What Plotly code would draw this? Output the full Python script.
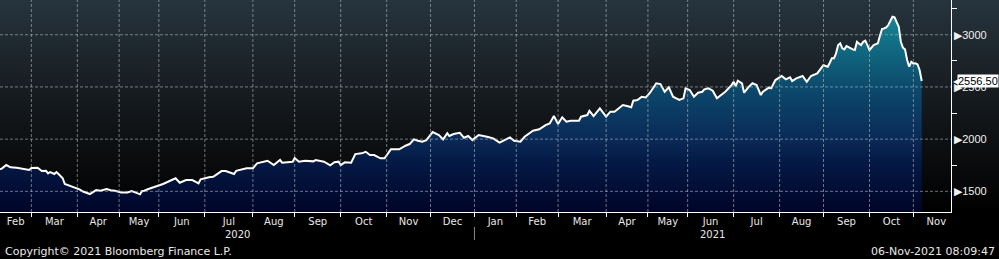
import base64
import pandas as pd
import plotly.graph_objects as go

# ---------------- data ----------------
dates = [
    "2020-02-10", "2020-02-11", "2020-02-13", "2020-02-17", "2020-02-20", "2020-02-25", "2020-02-28",
    "2020-03-02", "2020-03-05", "2020-03-09", "2020-03-11", "2020-03-12", "2020-03-13", "2020-03-17",
    "2020-03-18", "2020-03-19", "2020-03-23", "2020-03-24", "2020-03-27", "2020-03-30",
    "2020-04-02", "2020-04-06", "2020-04-09", "2020-04-16", "2020-04-20", "2020-04-23", "2020-04-27", "2020-04-29",
    "2020-05-04", "2020-05-07", "2020-05-12", "2020-05-14", "2020-05-18", "2020-05-19", "2020-05-20",
    "2020-05-22", "2020-05-27", "2020-05-29",
    "2020-06-01", "2020-06-03", "2020-06-11", "2020-06-15", "2020-06-18", "2020-06-23", "2020-06-26", "2020-06-29",
    "2020-07-03", "2020-07-07", "2020-07-13", "2020-07-15", "2020-07-21", "2020-07-22", "2020-07-29",
    "2020-08-03", "2020-08-05", "2020-08-11", "2020-08-12", "2020-08-17", "2020-08-20", "2020-08-21", "2020-08-28",
    "2020-09-01", "2020-09-03", "2020-09-08", "2020-09-14", "2020-09-15", "2020-09-18", "2020-09-21",
    "2020-09-24", "2020-09-28", "2020-09-30",
    "2020-10-01", "2020-10-05", "2020-10-08", "2020-10-12", "2020-10-15", "2020-10-19", "2020-10-21",
    "2020-10-23", "2020-10-28", "2020-10-30",
    "2020-11-04", "2020-11-10", "2020-11-12", "2020-11-13", "2020-11-17", "2020-11-19", "2020-11-23",
    "2020-11-25", "2020-11-27",
    "2020-12-02", "2020-12-07", "2020-12-09", "2020-12-11", "2020-12-14", "2020-12-16", "2020-12-21",
    "2020-12-23", "2020-12-29", "2020-12-31",
    "2021-01-06", "2021-01-12", "2021-01-15", "2021-01-20", "2021-01-25", "2021-01-27", "2021-01-29",
    "2021-02-03", "2021-02-05", "2021-02-11", "2021-02-16", "2021-02-19", "2021-02-23", "2021-02-25",
    "2021-03-01", "2021-03-03", "2021-03-05", "2021-03-09", "2021-03-15", "2021-03-16", "2021-03-19",
    "2021-03-22", "2021-03-24", "2021-03-29",
    "2021-04-01", "2021-04-07", "2021-04-09", "2021-04-12", "2021-04-15", "2021-04-19", "2021-04-21",
    "2021-04-22", "2021-04-26", "2021-04-28", "2021-04-30",
    "2021-05-05", "2021-05-10", "2021-05-12", "2021-05-14", "2021-05-18", "2021-05-20", "2021-05-25",
    "2021-05-27", "2021-05-28",
    "2021-06-02", "2021-06-04", "2021-06-08", "2021-06-10", "2021-06-11", "2021-06-15", "2021-06-17",
    "2021-06-21", "2021-06-23", "2021-06-25", "2021-06-30",
    "2021-07-01", "2021-07-02", "2021-07-05", "2021-07-07", "2021-07-08", "2021-07-12", "2021-07-14",
    "2021-07-16", "2021-07-20", "2021-07-21", "2021-07-26", "2021-07-27", "2021-07-29",
    "2021-08-03", "2021-08-05", "2021-08-09", "2021-08-10", "2021-08-12", "2021-08-17", "2021-08-19",
    "2021-08-23", "2021-08-26",
    "2021-09-01", "2021-09-02", "2021-09-03", "2021-09-06", "2021-09-07", "2021-09-08", "2021-09-09",
    "2021-09-10", "2021-09-13", "2021-09-14", "2021-09-15", "2021-09-16", "2021-09-17", "2021-09-20",
    "2021-09-21", "2021-09-22", "2021-09-23", "2021-09-24", "2021-09-27", "2021-09-28", "2021-09-29",
    "2021-09-30",
    "2021-10-01", "2021-10-05", "2021-10-07", "2021-10-08", "2021-10-11", "2021-10-12", "2021-10-13",
    "2021-10-14", "2021-10-15", "2021-10-18", "2021-10-19", "2021-10-20", "2021-10-21", "2021-10-22",
    "2021-10-25", "2021-10-26", "2021-10-27", "2021-10-28", "2021-10-29",
    "2021-11-01", "2021-11-02", "2021-11-03", "2021-11-04", "2021-11-05",
]
values = [
    1711, 1720, 1752, 1730, 1726, 1714, 1704,
    1723, 1726, 1694, 1697, 1672, 1685, 1666,
    1685, 1666, 1625, 1570, 1551, 1544,
    1519, 1496, 1474, 1512, 1506, 1522, 1510, 1506,
    1490, 1490, 1503, 1487, 1471, 1503, 1506,
    1522, 1534, 1551,
    1558, 1570, 1625, 1582, 1608, 1608, 1577, 1615,
    1634, 1640, 1694, 1694, 1666, 1697, 1720,
    1720, 1768, 1784, 1793, 1752, 1800, 1774, 1784,
    1819, 1784, 1793, 1787, 1800, 1790, 1784,
    1749, 1778, 1784,
    1752, 1778, 1774, 1857, 1864, 1879, 1848,
    1848, 1816, 1816,
    1902, 1902, 1927, 1937, 1953, 1998, 1985,
    1975, 1991,
    2068, 2039, 1998, 2056, 2030, 2049, 2061,
    2013, 2030, 1991,
    2039, 2023, 2008, 1966, 1998, 2017, 1985,
    1975, 2023, 2080, 2094, 2135, 2151, 2221,
    2145, 2209, 2167, 2176, 2176, 2215, 2231,
    2272, 2221, 2295,
    2215, 2263, 2263, 2279, 2327, 2317, 2305,
    2368, 2375, 2406, 2400,
    2445, 2535, 2528, 2454, 2496, 2406, 2375,
    2391, 2487,
    2470, 2406, 2445, 2454, 2477, 2487, 2464,
    2391, 2423, 2454, 2518,
    2550, 2509, 2560, 2535, 2445, 2496, 2535,
    2518, 2423, 2454, 2496, 2487, 2566,
    2605, 2573, 2592, 2556, 2582, 2605, 2550,
    2605, 2630,
    2710, 2700, 2694, 2732, 2774, 2774, 2822,
    2901, 2918, 2870, 2860, 2892, 2879, 2870,
    2860, 2854, 2933, 2915, 2901, 2933, 2943,
    2901,
    2854, 2901, 2918, 2990, 3055, 3061, 3071,
    3093, 3141, 3173, 3167, 3120, 3077, 2933,
    2876, 2860, 2758, 2694, 2741,
    2725, 2726, 2716, 2660, 2556.5,
]

y_ticks = [1500, 2000, 2500, 3000]
y_minor = [1750, 2250, 2750, 3250]
y_range = [1302, 3333]
holidays = ["2020-04-10", "2020-04-13", "2020-05-08", "2020-05-25", "2020-08-31",
            "2020-12-25", "2020-12-28", "2021-01-01", "2021-04-02", "2021-04-05",
            "2021-05-03", "2021-05-31", "2021-08-30"]
x_start = "2020-02-10"
x_end = "2021-11-25"
last_label = "2556.50"
copyright_text = "Copyright\u00a9 2021 Bloomberg Finance L.P."
timestamp_text = "06-Nov-2021 08:09:47"

# ---------------- trading-day calendar ----------------
bdays = pd.bdate_range(x_start, "2021-12-31", freq="C", holidays=holidays)
end_idx = int(bdays.get_indexer([pd.Timestamp(x_end)])[0])


def idx_to_date(f):
    i = int(f)
    return (bdays[i] + pd.Timedelta(days=f - i)).strftime("%Y-%m-%d %H:%M:%S")


def bd(i):
    return bdays[i].strftime("%Y-%m-%d")


# first trading day of every month (calendar extends past the visible range)
month_first = []
seen = set()
for i, d in enumerate(bdays):
    key = (d.year, d.month)
    if key not in seen:
        seen.add(key)
        month_first.append(i)
month_label_x, month_label_t = [], []
for k in range(len(month_first) - 1):
    a, b = month_first[k], month_first[k + 1]
    if a > end_idx:
        break
    month_label_x.append(idx_to_date((a + b) / 2))
    month_label_t.append(bdays[a].strftime("%b"))
grid_x = [bd(i) for i in month_first[1:] if i <= end_idx]

year_first = []
seen_y = set()
for i, d in enumerate(bdays[: end_idx + 1]):
    if d.year not in seen_y:
        seen_y.add(d.year)
        year_first.append(i)
year_bounds = year_first + [end_idx]
year_x = [idx_to_date((year_bounds[k] + year_bounds[k + 1]) / 2) for k in range(len(year_first))]
year_t = [str(bdays[i].year) for i in year_first]
year_sep = [bd(i) for i in year_first[1:]]

# ---------------- figure ----------------
W, H = 999, 259
ML, MR, MT, MB = 0, 48, 0, 47
PW = W - ML - MR
PH = H - MT - MB

FONT = "DejaVu Sans"
NFONT = "Liberation Sans"

fig = go.Figure()
fig.add_trace(go.Scatter(
    x=dates, y=values, mode="lines",
    line=dict(color="white", width=2),
    fill="tozeroy",
    fillgradient=dict(
        type="vertical", start=y_range[0], stop=3200,
        colorscale=[[0.0, "#000428"], [0.26, "#041a46"], [0.37, "#0a2a58"],
                    [0.63, "#0c4a6c"], [0.89, "#137488"], [1.0, "#1b8898"]],
    ),
    hoverinfo="skip", showlegend=False,
))

shapes = []
grid_line = dict(color="#b4b9be", width=1, dash="3px,2px")
for gx in grid_x:
    shapes.append(dict(type="line", xref="x", yref="paper", x0=gx, x1=gx, y0=0, y1=1,
                       line=grid_line, opacity=0.6, layer="above"))
for gy in y_ticks:
    shapes.append(dict(type="line", xref="paper", yref="y", x0=0, x1=1, y0=gy, y1=gy,
                       line=grid_line, opacity=0.6, layer="above"))
for sx in year_sep:
    shapes.append(dict(type="line", xref="x", yref="paper", x0=sx, x1=sx,
                       y0=-15 / PH, y1=-28 / PH,
                       line=dict(color="#8a8a8a", width=1), layer="above"))

svg = ('<svg xmlns="http://www.w3.org/2000/svg" width="10" height="100" viewBox="0 0 10 100" '
       'preserveAspectRatio="none"><defs><linearGradient id="g" x1="0" y1="0" x2="0" y2="1">'
       '<stop offset="0" stop-color="#26343e"/><stop offset="0.45" stop-color="#161b1f"/>'
       '<stop offset="0.85" stop-color="#060708"/><stop offset="1" stop-color="#000000"/>'
       '</linearGradient></defs><rect width="10" height="100" fill="url(#g)"/></svg>')
bg_src = "data:image/svg+xml;base64," + base64.b64encode(svg.encode()).decode()

annotations = []
for yx, yt in zip(year_x, year_t):
    annotations.append(dict(x=yx, xref="x", y=0, yref="paper", yshift=-22, yanchor="middle",
                            text=yt, showarrow=False, font=dict(family=FONT, size=10, color="#e8e8e8")))
annotations.append(dict(x=0, xref="paper", xanchor="left", xshift=3, y=0, yref="paper", yshift=-39,
                        yanchor="middle", text=copyright_text, showarrow=False,
                        font=dict(family=FONT, size=11, color="#e8e8e8")))
annotations.append(dict(x=W / PW, xref="paper", xanchor="right", xshift=-2, y=0, yref="paper",
                        yshift=-39, yanchor="middle", text=timestamp_text, showarrow=False,
                        font=dict(family=FONT, size=11, color="#e8e8e8")))
annotations.append(dict(x=1, xref="paper", xanchor="left", xshift=0, y=values[-1], yref="y",
                        yanchor="middle", text="\u25C0", showarrow=False,
                        font=dict(family=FONT, size=8, color="white")))
annotations.append(dict(x=1, xref="paper", xanchor="left", xshift=6, y=values[-1], yref="y",
                        yanchor="middle", text=last_label, showarrow=False,
                        bgcolor="white", borderpad=0,
                        font=dict(family=NFONT, size=11, color="black")))

fig.update_layout(
    width=W, height=H,
    margin=dict(l=ML, r=MR, t=MT, b=MB, pad=0),
    paper_bgcolor="black", plot_bgcolor="rgba(0,0,0,0)",
    showlegend=False,
    shapes=shapes, annotations=annotations,
    images=[dict(source=bg_src, xref="paper", yref="paper", x=0, y=1, sizex=W / PW, sizey=1,
                 xanchor="left", yanchor="top", sizing="stretch", layer="below")],
    xaxis=dict(
        type="date", range=[x_start, x_end],
        rangebreaks=[dict(bounds=["sat", "mon"]), dict(values=holidays)],
        tickmode="array", tickvals=month_label_x, ticktext=month_label_t,
        ticks="", showgrid=False, zeroline=False,
        showline=True, linecolor="white", linewidth=1,
        tickfont=dict(family=FONT, size=10, color="#e8e8e8"),
        minor=dict(tickmode="array", tickvals=grid_x, ticks="outside", ticklen=4,
                   tickcolor="white", tickwidth=1, showgrid=False),
        fixedrange=True,
    ),
    yaxis=dict(
        side="right", range=y_range,
        tickmode="array", tickvals=y_ticks, ticktext=["\u25B6" + str(v) for v in y_ticks],
        ticks="", showgrid=False, zeroline=False,
        showline=True, linecolor="white", linewidth=1,
        ticklabelstandoff=0,
        tickfont=dict(family=NFONT, size=11, color="#f0f0f0"),
        minor=dict(tickmode="array", tickvals=y_minor, ticks="outside", ticklen=5,
                   tickcolor="white", tickwidth=1, showgrid=False),
        fixedrange=True,
    ),
)

fig.write_html("out.html")
